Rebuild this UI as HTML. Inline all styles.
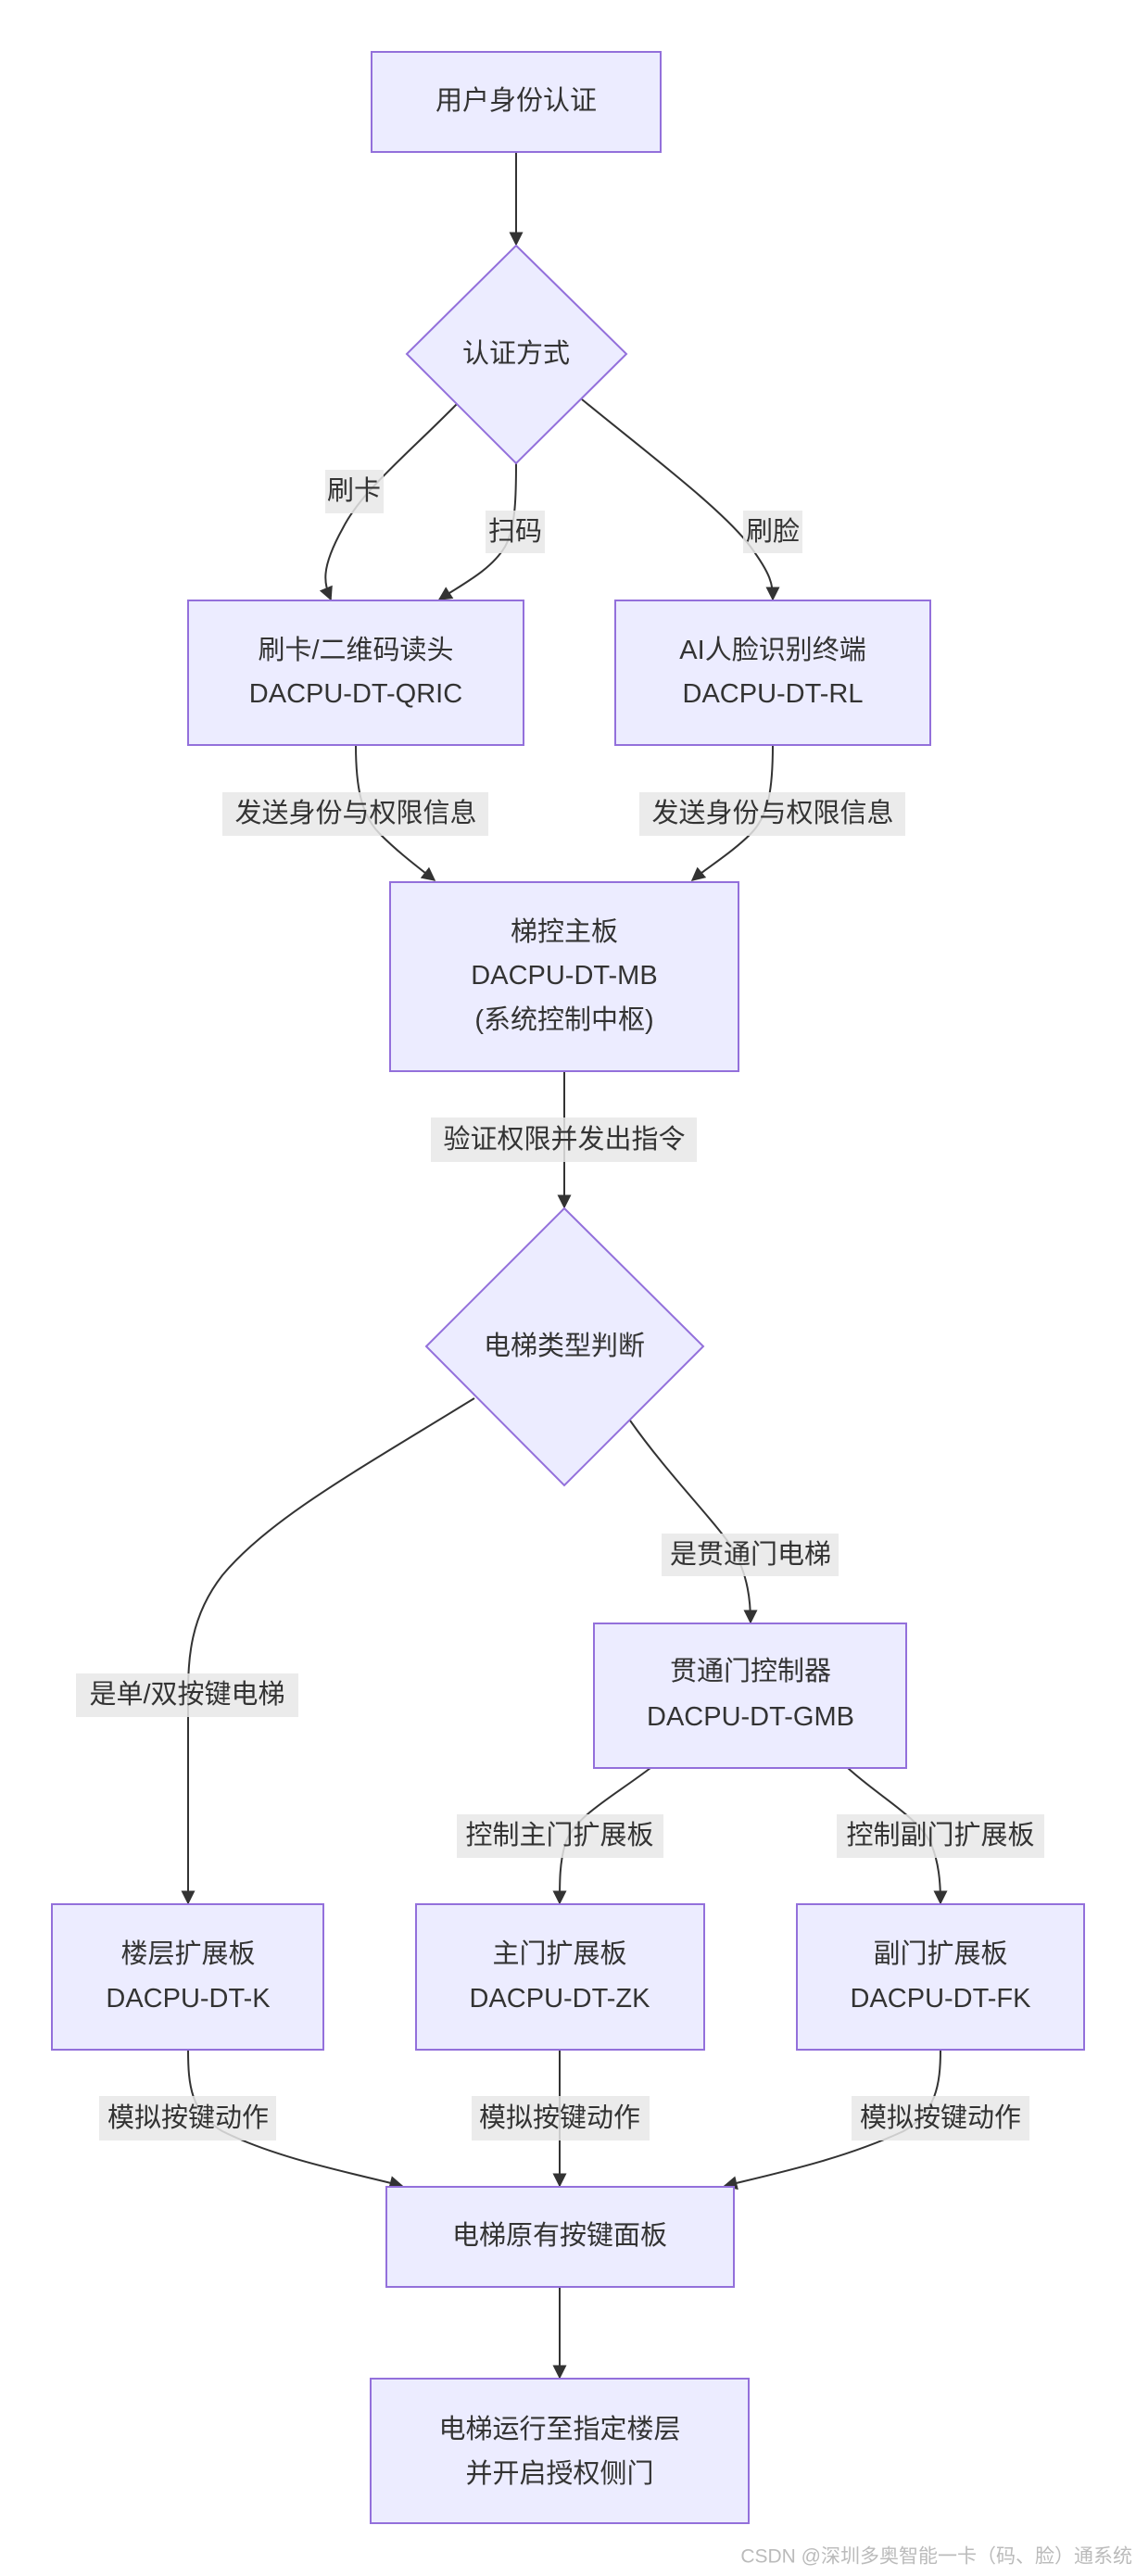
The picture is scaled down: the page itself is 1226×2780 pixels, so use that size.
<!DOCTYPE html>
<html><head><meta charset="utf-8"><style>
html,body{margin:0;padding:0;background:#fff;}
svg{display:block}
text{font-family:"Liberation Sans","Noto Sans CJK SC",sans-serif;font-size:29px;fill:#333;text-anchor:middle;dominant-baseline:central}
.n{fill:#ECECFF;stroke:#9370DB;stroke-width:2}
.e{fill:none;stroke:#333;stroke-width:2}
.lb{fill:#e8e8e8;opacity:0.85}
</style></head><body>
<svg width="1226" height="2780" viewBox="0 0 1226 2780" xmlns="http://www.w3.org/2000/svg">
<defs><marker id="a" viewBox="0 0 10 10" refX="9" refY="5" markerWidth="15" markerHeight="15" markerUnits="userSpaceOnUse" orient="auto"><path d="M0,0L10,5L0,10z" fill="#333"/></marker></defs>

<!-- edges -->
<path class="e" marker-end="url(#a)" d="M557,164 L557,264"/>
<path class="e" marker-end="url(#a)" d="M493,436 C440,490 390,530 370,570 C345,615 350,630 357,647"/>
<path class="e" marker-end="url(#a)" d="M557,500 C557,540 556,570 545,590 C530,615 500,630 474,647"/>
<path class="e" marker-end="url(#a)" d="M628,431 C700,490 780,550 810,590 C832,620 834,630 834,647"/>
<path class="e" marker-end="url(#a)" d="M384,804 C384,850 390,880 410,900 C430,920 450,935 469,950"/>
<path class="e" marker-end="url(#a)" d="M834,804 C834,850 830,880 810,900 C790,920 765,935 747,950"/>
<path class="e" marker-end="url(#a)" d="M609,1156 L609,1303"/>
<path class="e" marker-end="url(#a)" d="M512,1509 C380,1590 290,1640 240,1700 C205,1745 203,1790 203,1830 L203,2054"/>
<path class="e" marker-end="url(#a)" d="M680,1533 C720,1590 770,1640 790,1670 C808,1700 810,1730 810,1751"/>
<path class="e" marker-end="url(#a)" d="M702,1908 C660,1940 620,1960 610,1990 C604,2010 604,2030 604,2054"/>
<path class="e" marker-end="url(#a)" d="M915,1908 C950,1940 990,1960 1005,1990 C1013,2010 1015,2030 1015,2054"/>
<path class="e" marker-end="url(#a)" d="M203,2212 C203,2250 206,2280 240,2300 C300,2330 380,2345 434,2359"/>
<path class="e" marker-end="url(#a)" d="M604,2212 L604,2359"/>
<path class="e" marker-end="url(#a)" d="M1015,2212 C1015,2250 1010,2280 975,2300 C910,2330 840,2345 782,2359"/>
<path class="e" marker-end="url(#a)" d="M604,2468 L604,2566"/>

<!-- nodes -->
<rect class="n" x="401" y="56" width="312" height="108"/>
<text x="557" y="109">用户身份认证</text>
<polygon class="n" points="557,265 676,382 557,500 439,382"/>
<text x="557" y="382">认证方式</text>
<rect class="n" x="203" y="648" width="362" height="156"/>
<text x="384" y="702">刷卡/二维码读头</text>
<text x="384" y="749">DACPU-DT-QRIC</text>
<rect class="n" x="664" y="648" width="340" height="156"/>
<text x="834" y="702">AI人脸识别终端</text>
<text x="834" y="749">DACPU-DT-RL</text>
<rect class="n" x="421" y="952" width="376" height="204"/>
<text x="609" y="1006">梯控主板</text>
<text x="609" y="1053">DACPU-DT-MB</text>
<text x="609" y="1101">(系统控制中枢)</text>
<polygon class="n" points="609,1304 759,1453 609,1603 460,1453"/>
<text x="609" y="1453">电梯类型判断</text>
<rect class="n" x="641" y="1752" width="337" height="156"/>
<text x="810" y="1804">贯通门控制器</text>
<text x="810" y="1853">DACPU-DT-GMB</text>
<rect class="n" x="56" y="2055" width="293" height="157"/>
<text x="203" y="2109">楼层扩展板</text>
<text x="203" y="2157">DACPU-DT-K</text>
<rect class="n" x="449" y="2055" width="311" height="157"/>
<text x="604" y="2109">主门扩展板</text>
<text x="604" y="2157">DACPU-DT-ZK</text>
<rect class="n" x="860" y="2055" width="310" height="157"/>
<text x="1015" y="2109">副门扩展板</text>
<text x="1015" y="2157">DACPU-DT-FK</text>
<rect class="n" x="417" y="2360" width="375" height="108"/>
<text x="604" y="2413">电梯原有按键面板</text>
<rect class="n" x="400" y="2567" width="408" height="156"/>
<text x="604" y="2622">电梯运行至指定楼层</text>
<text x="604" y="2670">并开启授权侧门</text>

<!-- labels -->
<rect class="lb" x="351" y="507" width="63" height="47"/><text x="382" y="530">刷卡</text>
<rect class="lb" x="524" y="551" width="64" height="46"/><text x="556" y="574">扫码</text>
<rect class="lb" x="802" y="551" width="64" height="46"/><text x="834" y="574">刷脸</text>
<rect class="lb" x="240" y="855" width="287" height="47"/><text x="384" y="878">发送身份与权限信息</text>
<rect class="lb" x="690" y="855" width="287" height="47"/><text x="834" y="878">发送身份与权限信息</text>
<rect class="lb" x="465" y="1206" width="287" height="48"/><text x="609" y="1230">验证权限并发出指令</text>
<rect class="lb" x="714" y="1655" width="191" height="46"/><text x="810" y="1678">是贯通门电梯</text>
<rect class="lb" x="82" y="1806" width="240" height="47"/><text x="202" y="1829">是单/双按键电梯</text>
<rect class="lb" x="493" y="1958" width="223" height="47"/><text x="604" y="1981">控制主门扩展板</text>
<rect class="lb" x="903" y="1958" width="224" height="47"/><text x="1015" y="1981">控制副门扩展板</text>
<rect class="lb" x="107" y="2262" width="191" height="48"/><text x="203" y="2286">模拟按键动作</text>
<rect class="lb" x="509" y="2262" width="192" height="48"/><text x="604" y="2286">模拟按键动作</text>
<rect class="lb" x="919" y="2262" width="192" height="48"/><text x="1015" y="2286">模拟按键动作</text>

<text x="1222" y="2759" style="font-size:21px;fill:#bbb;text-anchor:end">CSDN @深圳多奥智能一卡（码、脸）通系统</text>
</svg>
</body></html>
